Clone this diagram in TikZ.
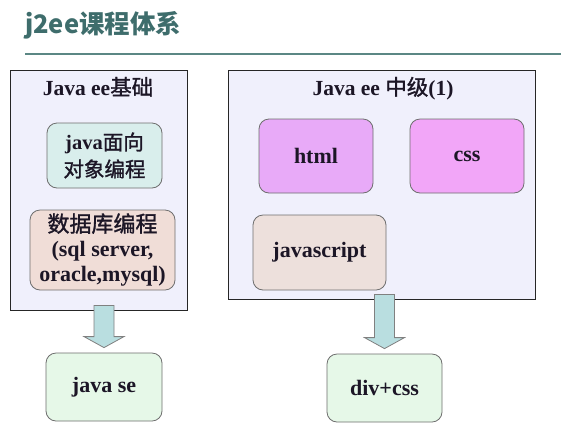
\documentclass[tikz,border=0pt]{standalone}
\usepackage{fontspec}
\setmainfont{Liberation Serif}
\newfontfamily\cjk{Noto Sans CJK SC}
\newfontfamily\cjkmid{Noto Sans CJK SC}[FakeBold=1.4]
\usetikzlibrary{calc}

\definecolor{headteal}{HTML}{3E6D6C}
\definecolor{ruleteal}{HTML}{5B8784}
\definecolor{ink}{HTML}{1C1626}
\definecolor{framefill}{HTML}{F0F0FC}
\definecolor{cardline}{HTML}{6E6E6E}
\definecolor{oopfill}{HTML}{D9EEEC}
\definecolor{dbfill}{HTML}{F0DDD7}
\definecolor{htmlfill}{HTML}{E8AAF8}
\definecolor{cssfill}{HTML}{F2A6F8}
\definecolor{jsfill}{HTML}{EDE0DC}
\definecolor{outfill}{HTML}{E6F8E8}
\definecolor{arrowfill}{HTML}{B9DEE0}

\newcommand\zh[1]{{\cjkmid\mdseries #1}}
% wide arrow from a frame down to a box
\newcommand\blockarrow[2]{%
  \draw[blockarr] let \p1=(#1.south), \p2=(#2.north) in
    (\x2-10pt,\y1+5pt) -- (\x2-10pt,\y2+16pt) -- (\x2-20pt,\y2+16pt) -- (\x2,\y2+5pt)
    -- (\x2+20pt,\y2+16pt) -- (\x2+10pt,\y2+16pt) -- (\x2+10pt,\y1+5pt) -- cycle;}

\begin{document}
\begin{tikzpicture}[x=1pt,y=-1pt,
    frame/.style={draw=black!85,fill=framefill,line width=0.8pt,inner sep=0pt},
    frametitle/.style={anchor=base,text=ink,inner sep=0pt,font=\bfseries\fontsize{21.5}{25}\selectfont},
    card/.style={draw=cardline,rounded corners=10pt,line width=0.8pt,inner sep=0pt,
      align=center,text=ink,font=\bfseries\fontsize{22}{26}\selectfont},
    blockarr/.style={draw=black!50,fill=arrowfill,line width=0.8pt,line join=miter}]
\useasboundingbox (0,0) rectangle (561,437);
\fill[white] (0,0) rectangle (561,437);

% heading
\node (head) [anchor=base west,inner sep=0pt,text=headteal,font=\cjk\bfseries\fontsize{25.5}{30}\selectfont]
  at (25,33) {j2ee课程体系};
\coordinate (ruleL) at (25,54);
\coordinate (ruleR) at (561,54);
\draw[ruleteal,line width=2pt] (ruleL) -- (ruleR);

% left frame
\node (base) [frame,minimum width=177pt,minimum height=240pt] at (98.5,190) {};
\node (basetitle) [frametitle] at (98,95) {Java ee\zh{基础}};
\node (oop) [card,fill=oopfill,minimum width=115pt,minimum height=65pt,
  font=\bfseries\fontsize{20.5}{27}\selectfont] at (104.5,155.5) {java\zh{面向}\\\zh{对象编程}};
\node (db) [card,fill=dbfill,minimum width=145pt,minimum height=80pt,
  font=\bfseries\fontsize{22}{25}\selectfont] at (102.5,250) {\zh{数据库编程}\\(sql server,\\oracle,mysql)};

% right frame
\node (mid) [frame,minimum width=307pt,minimum height=229pt] at (381.5,184.5) {};
\node (midtitle) [frametitle] at (383,95) {Java ee \zh{中级}(1)};
\node (html) [card,fill=htmlfill,minimum width=114pt,minimum height=74pt] at (316,156) {html};
\node (css) [card,fill=cssfill,minimum width=114pt,minimum height=74pt] at (467,156) {css};
\node (js) [card,fill=jsfill,minimum width=133pt,minimum height=75pt] at (319.5,252.5) {javascript};

% results
\node (javase) [card,fill=outfill,minimum width=116pt,minimum height=68pt] at (104,387) {java se};
\node (divcss) [card,fill=outfill,minimum width=115pt,minimum height=68pt] at (384.5,388) {div+css};

\blockarrow{base}{javase}
\blockarrow{mid}{divcss}
\end{tikzpicture}
\end{document}
